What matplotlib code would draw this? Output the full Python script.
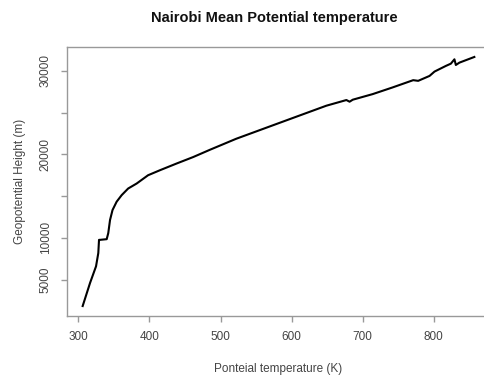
import matplotlib
matplotlib.use("Agg")
import matplotlib.pyplot as plt

plt.rcParams['font.family'] = ['Liberation Sans', 'DejaVu Sans']

theta_K = [306, 316.4, 324.8, 328, 329, 330.4, 339.8, 342, 344.5, 348, 353.8, 360.9,
           370, 382, 398, 414.7, 438, 461.5, 485, 522, 602, 648.8, 677, 681.5, 686, 714, 742,
           771, 778, 794, 801, 817, 824, 829, 831, 836, 857]
height_m = [1830, 4600, 6590, 8180, 9760, 9760, 9840, 10560, 12140, 13330, 14330, 15120,
            15910, 16510, 17500, 18100, 18900, 19680, 20550, 21870, 24370, 25830, 26510, 26310, 26550,
            27220, 28020, 28890, 28810, 29400, 29920, 30600, 30870, 31390, 30710, 30990, 31670]

x_ticks = [300, 400, 500, 600, 700, 800]
y_ticks = [5000, 10000, 15000, 20000, 25000, 30000]
y_tick_labels = ["5000", "10000", "", "20000", "", "30000"]

W, H = 485, 381
fig = plt.figure(figsize=(W / 100, H / 100), dpi=100)
left, right, top, bottom = 67, 490, 47, 316
ax = fig.add_axes([left / W, 1 - bottom / H, (right - left) / W, (bottom - top) / H])

ax.plot(theta_K, height_m, color='black', lw=1.5)

xr = max(theta_K) - min(theta_K)
yr = max(height_m) - min(height_m)
ax.set_xlim(min(theta_K) - 0.04 * xr, max(theta_K) + 0.04 * xr)
ax.set_ylim(min(height_m) - 0.04 * yr, max(height_m) + 0.04 * yr)

ax.set_xticks(x_ticks)
ax.set_yticks(y_ticks)
ax.set_yticklabels(y_tick_labels, rotation=90, va='center')

for s in ax.spines.values():
    s.set_color('#999999')
    s.set_linewidth(1.0)
ax.tick_params(axis='both', colors='#999999', labelcolor='#444444', labelsize=8.5,
               length=4, width=1.0)
ax.tick_params(axis='x', pad=7)
ax.tick_params(axis='y', pad=7)

ax.set_xlabel("Ponteial temperature (K)", fontsize=8.5, color='#444444', labelpad=14)
ax.set_ylabel("Geopotential Height (m)", fontsize=8.5, color='#444444', labelpad=10)
fig.text(274 / W, 1 - 18 / H, "Nairobi Mean Potential temperature", ha='center', va='center',
         fontsize=10.5, fontweight='bold', color='#111111')

fig.savefig("out.png", dpi=100)
